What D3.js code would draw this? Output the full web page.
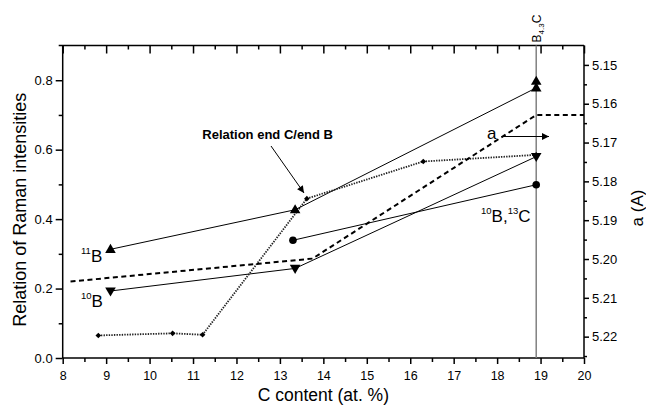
<!DOCTYPE html>
<html><head><meta charset="utf-8">
<script src="https://cdn.jsdelivr.net/npm/d3@7"></script>
<style>
body{margin:0;background:#fff}
text{font-family:"Liberation Sans",Arial,Helvetica,sans-serif;fill:#000}
</style>
</head><body>
<svg id="c" width="646" height="405"></svg>
<script>
// ---- data ----
const xTicks = [8,9,10,11,12,13,14,15,16,17,18,19,20];
const xMinor = [8.5,9.5,10.5,11.5,12.5,13.5,14.5,15.5,16.5,17.5,18.5,19.5];
const yTicks = [0.0,0.2,0.4,0.6,0.8];
const yMinor = [0.1,0.3,0.5,0.7];
const y2Ticks = [5.15,5.16,5.17,5.18,5.19,5.20,5.21,5.22];
const y2Minor = [5.155,5.165,5.175,5.185,5.195,5.205,5.215,5.225];

const b11X = [9.1, 13.35, 18.9];
const b11Y = [0.313, 0.427, 0.778];
const b11ExtraX = [18.9];
const b11ExtraY = [0.797];
const b10X = [9.1, 13.35, 18.9];
const b10Y = [0.193, 0.258, 0.58];
const b10c13X = [13.3, 18.9];
const b10c13Y = [0.339, 0.499];
const endX = [8.82, 10.53, 11.22, 13.62, 16.3, 18.9];
const endY = [0.065, 0.071, 0.067, 0.459, 0.566, 0.585];
const aX = [8.18, 13.75, 18.9, 20];
const aY = [5.2058, 5.1999, 5.1629, 5.1629];
const b43cX = 18.9;

// ---- layout ----
const L = 62.7, R = 584, T = 45.5, B = 358;
const svg = d3.select("#c");
const x = d3.scaleLinear().domain([8,20]).range([L,R]);
const y = d3.scaleLinear().domain([0,0.9]).range([B,T]);
const y2 = d3.scaleLinear().domain([5.145,5.2255]).range([T,B]);

function styleAxis(g, fs){
  g.select(".domain").remove();
  g.selectAll(".tick line").attr("stroke","#000").attr("stroke-width",1.5);
  g.selectAll(".tick text").attr("font-size",fs).attr("font-family",'"Liberation Sans",Arial,sans-serif').attr("fill","#000");
}
// bottom
svg.append("g").attr("transform",`translate(0,${B})`)
  .call(d3.axisBottom(x).tickValues(xTicks).tickFormat(d3.format("d")).tickSize(6).tickPadding(7))
  .call(g=>styleAxis(g,12.5));
svg.append("g").attr("transform",`translate(0,${B})`)
  .call(d3.axisBottom(x).tickValues(xMinor).tickFormat("").tickSize(4))
  .call(g=>styleAxis(g,12.5));
// top (inward)
svg.append("g").attr("transform",`translate(0,${T})`)
  .call(d3.axisTop(x).tickValues(xTicks).tickFormat("").tickSize(-8))
  .call(g=>styleAxis(g,13));
svg.append("g").attr("transform",`translate(0,${T})`)
  .call(d3.axisTop(x).tickValues(xMinor).tickFormat("").tickSize(-4))
  .call(g=>styleAxis(g,13));
// left
svg.append("g").attr("transform",`translate(${L},0)`)
  .call(d3.axisLeft(y).tickValues(yTicks).tickFormat(d3.format(".1f")).tickSize(7).tickPadding(3))
  .call(g=>styleAxis(g,13));
svg.append("g").attr("transform",`translate(${L},0)`)
  .call(d3.axisLeft(y).tickValues(yMinor).tickFormat("").tickSize(4))
  .call(g=>styleAxis(g,13));
// right
svg.append("g").attr("transform",`translate(${R},0)`)
  .call(d3.axisRight(y2).tickValues(y2Ticks).tickFormat(d3.format(".2f")).tickSize(5).tickPadding(3))
  .call(g=>styleAxis(g,13));
svg.append("g").attr("transform",`translate(${R},0)`)
  .call(d3.axisRight(y2).tickValues(y2Minor).tickFormat("").tickSize(3))
  .call(g=>styleAxis(g,13));

// frame
svg.append("line").attr("x1",L-4).attr("x2",R).attr("y1",T).attr("y2",T).attr("stroke","#000").attr("stroke-width",1.5);
svg.append("line").attr("x1",L).attr("x2",R).attr("y1",B).attr("y2",B).attr("stroke","#000").attr("stroke-width",1.5);
svg.append("line").attr("x1",L).attr("x2",L).attr("y1",T).attr("y2",B).attr("stroke","#000").attr("stroke-width",1.5);
svg.append("line").attr("x1",R).attr("x2",R).attr("y1",T).attr("y2",B).attr("stroke","#000").attr("stroke-width",1.5);

// B4.3C vertical line
svg.append("line").attr("x1",x(b43cX)).attr("x2",x(b43cX)).attr("y1",T).attr("y2",B)
  .attr("stroke","#808080").attr("stroke-width",1.5);
const bt = svg.append("text").attr("transform",`translate(${x(b43cX)+4.5},${T-3}) rotate(-90)`).attr("font-size",12);
bt.append("tspan").text("B");
bt.append("tspan").attr("font-size",8).attr("dy",3).text("4.3");
bt.append("tspan").attr("dy",-3).text("C");

// lines
const line = (xs, ys, sy) => d3.line()(xs.map((v,i)=>[x(v), sy(ys[i])]));
const plot = svg.append("g");
plot.append("path").attr("d",line(b11X,b11Y,y)).attr("fill","none").attr("stroke","#000").attr("stroke-width",1);
plot.append("path").attr("d",line(b10X,b10Y,y)).attr("fill","none").attr("stroke","#000").attr("stroke-width",1);
plot.append("path").attr("d",line(b10c13X,b10c13Y,y)).attr("fill","none").attr("stroke","#000").attr("stroke-width",1);
plot.append("path").attr("d",line(endX,endY,y)).attr("fill","none").attr("stroke","#222").attr("stroke-width",1.8).attr("stroke-dasharray","1.4,1.2");
plot.append("path").attr("d",line(aX,aY,y2)).attr("fill","none").attr("stroke","#000").attr("stroke-width",2).attr("stroke-dasharray","5,3.5");

// markers
const triUp = "M0,-5.5L5.3,3.6L-5.3,3.6Z";
const triDn = "M0,5.5L5.3,-3.6L-5.3,-3.6Z";
plot.selectAll(".t11").data(b11X.map((v,i)=>[v,b11Y[i]]).concat(b11ExtraX.map((v,i)=>[v,b11ExtraY[i]])))
  .join("path").attr("d",triUp).attr("transform",d=>`translate(${x(d[0])},${y(d[1])})`).attr("fill","#000");
plot.selectAll(".t10").data(b10X.map((v,i)=>[v,b10Y[i]]))
  .join("path").attr("d",triDn).attr("transform",d=>`translate(${x(d[0])},${y(d[1])})`).attr("fill","#000");
plot.selectAll(".c").data(b10c13X.map((v,i)=>[v,b10c13Y[i]]))
  .join("circle").attr("cx",d=>x(d[0])).attr("cy",d=>y(d[1])).attr("r",3.8).attr("fill","#000");
plot.selectAll(".dm").data(endX.map((v,i)=>[v,endY[i]]))
  .join("path").attr("d","M0,-2.8L2.8,0L0,2.8L-2.8,0Z").attr("transform",d=>`translate(${x(d[0])},${y(d[1])})`).attr("fill","#000");

// arrows
const defs = svg.append("defs");
defs.append("marker").attr("id","ah").attr("viewBox","0 0 10 10").attr("refX",10).attr("refY",5)
  .attr("markerWidth",10).attr("markerHeight",7).attr("markerUnits","userSpaceOnUse").attr("orient","auto")
  .append("path").attr("d","M0,0L10,5L0,10Z").attr("fill","#000");
svg.append("line").attr("x1",271).attr("y1",146).attr("x2",304).attr("y2",193)
  .attr("stroke","#000").attr("stroke-width",1).attr("marker-end","url(#ah)");
svg.append("line").attr("x1",502).attr("y1",136.5).attr("x2",549).attr("y2",136.5)
  .attr("stroke","#000").attr("stroke-width",1).attr("marker-end","url(#ah)");

// annotations
svg.append("text").attr("x",333).attr("y",139).attr("text-anchor","end").attr("font-size",13).attr("font-weight","bold").text("Relation end C/end B");
svg.append("text").attr("x",487).attr("y",139).attr("font-size",17).text("a");

function isoLabel(x0, y0, parts){
  const t = svg.append("text").attr("x",x0).attr("y",y0).attr("font-size",17);
  parts.forEach(p=>{
    const s = t.append("tspan").text(p[0]);
    if (p[1]) s.attr("font-size",9.5).attr("baseline-shift","85%");
  });
}
isoLabel(81, 262, [["11",true],["B",false]]);
isoLabel(81, 307, [["10",true],["B",false]]);
isoLabel(481, 222, [["10",true],["B,",false],["13",true],["C",false]]);

// axis titles
svg.append("text").attr("transform",`translate(26,${(T+B)/2+8}) rotate(-90)`).attr("text-anchor","middle").attr("font-size",18).text("Relation of Raman intensities");
svg.append("text").attr("transform",`translate(643,208) rotate(-90)`).attr("text-anchor","middle").attr("font-size",17).text("a (A)");
svg.append("text").attr("x",(L+R)/2).attr("y",401).attr("text-anchor","middle").attr("font-size",17.5).text("C content (at. %)");
</script>
</body></html>
